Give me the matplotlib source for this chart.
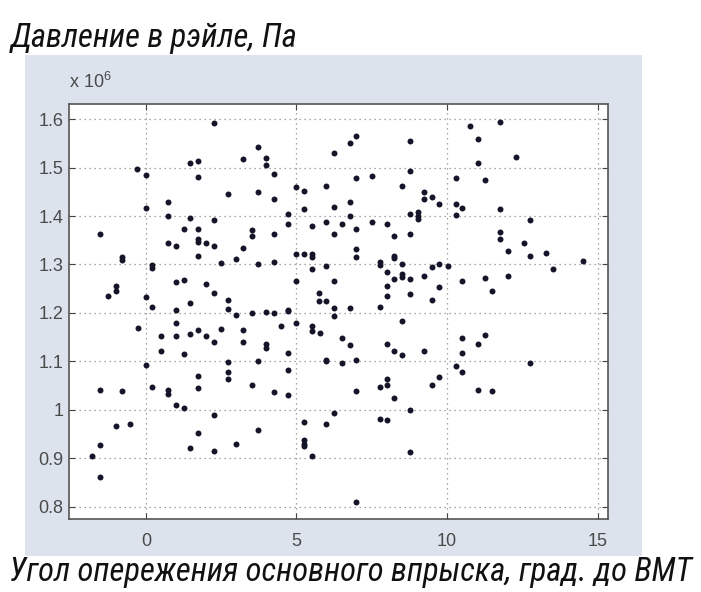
import matplotlib
matplotlib.use("Agg")
import matplotlib.pyplot as plt
from matplotlib.patches import Rectangle
from matplotlib import font_manager

# injection advance angle (deg before TDC) and rail pressure (x 10^6 Pa)
angle = [
    2.26, 3.71, 1.48, 1.74, 3.23, -0.28, 0.00, 1.74, 2.73, 3.72, 0.00, 0.74, 0.74, 1.48, 2.26,
    -1.53, 1.26, 1.74, 3.51, 3.51, 0.74, 1.00, 1.74, 1.74, 1.99, 2.26, 3.23, 1.74, -0.80, -0.80,
    2.48, 2.99, 3.71, 0.22, 0.22, 1.00, 1.26, -1.00, -1.00, -1.25, 0.00, 1.99, 2.26, 2.73, 0.22,
    1.48, 1.00, 2.73,
    2.99, 3.51, -0.26, 0.49, 1.00, 1.00, 1.48, 1.74, 1.99, 2.26, 2.48, 3.23, 3.23, 0.49, 1.26,
    0.00, 2.73, 2.73, 2.73, 3.71, 3.51, 1.74, 1.74, 0.22, -1.53, -0.80, 0.74, 0.74, 1.00, 1.26,
    2.26, -1.00, -0.53, 3.71, 1.74, -1.53, -1.78, 1.48, 2.26, 2.99, -1.53,
    3.98, 3.98, 4.25, 4.25, 4.98, 5.25, 5.97, 6.24, 6.77, 6.99, 8.76, 8.76, 7.51, 6.99, 8.50,
    9.24, 9.24, 9.50, 9.72, 5.25, 6.24, 6.77, 6.77, 4.72, 4.72, 5.52, 5.97, 6.52, 6.99, 7.51,
    8.02, 8.76, 9.02, 9.02, 9.02, 4.25, 6.24, 8.24, 8.76, 4.98, 5.25, 5.52, 5.52, 6.99, 6.99,
    8.24, 8.24, 4.25, 5.52, 5.97, 7.77, 7.77, 8.02, 8.50, 8.50, 8.50, 8.24, 8.76, 9.24, 9.50,
    9.72, 4.98, 6.24, 8.02, 9.72, 5.75, 5.75, 5.97, 8.02, 8.76, 9.50, 4.72, 6.24, 6.77, 7.77,
    3.98, 4.25, 4.72, 4.98, 6.24, 8.50, 4.50, 5.52, 5.52, 5.77, 3.98, 3.98, 4.72, 6.52, 6.77,
    8.02, 8.24, 8.50, 9.24, 4.72, 5.97, 5.97, 6.52, 6.99, 4.25, 4.72, 6.99, 7.77, 8.02, 8.02,
    8.24, 9.50, 9.72, 5.25, 5.97, 6.24, 7.77, 8.02, 8.76, 5.25, 5.25, 5.25, 5.52, 8.76, 6.99,
    10.75, 11.75, 11.03, 11.03, 12.27, 10.28, 11.27, 10.28, 10.50, 10.28, 11.75, 12.74, 11.75,
    11.75, 12.55, 12.01, 12.74, 13.27, 14.52, 13.52, 10.03, 10.50, 11.27, 12.01, 11.49,
    10.50, 11.27, 11.03, 10.50, 12.74, 10.28, 10.50, 11.03, 11.49,
]
pressure = [
    1.591, 1.543, 1.510, 1.514, 1.517, 1.497, 1.485, 1.481, 1.445, 1.450, 1.416, 1.428, 1.399, 1.396, 1.391,
    1.362, 1.374, 1.374, 1.372, 1.358, 1.344, 1.339, 1.352, 1.346, 1.345, 1.339, 1.334, 1.318, 1.315, 1.310,
    1.304, 1.312, 1.302, 1.298, 1.292, 1.264, 1.267, 1.256, 1.246, 1.234, 1.232, 1.260, 1.242, 1.227, 1.213,
    1.220, 1.207, 1.208,
    1.196, 1.199, 1.170, 1.153, 1.179, 1.153, 1.156, 1.165, 1.153, 1.141, 1.167, 1.165, 1.141, 1.122, 1.116,
    1.093, 1.099, 1.078, 1.064, 1.101, 1.051, 1.070, 1.046, 1.048, 1.041, 1.039, 1.041, 1.032, 1.011, 1.004,
    0.989, 0.966, 0.972, 0.958, 0.952, 0.927, 0.904, 0.922, 0.915, 0.930, 0.862,
    1.520, 1.505, 1.486, 1.436, 1.459, 1.452, 1.462, 1.529, 1.550, 1.565, 1.554, 1.493, 1.483, 1.479, 1.462,
    1.450, 1.436, 1.439, 1.425, 1.414, 1.418, 1.428, 1.401, 1.405, 1.384, 1.379, 1.387, 1.384, 1.374, 1.387,
    1.384, 1.405, 1.408, 1.401, 1.394, 1.362, 1.362, 1.358, 1.362, 1.321, 1.322, 1.322, 1.315, 1.331, 1.315,
    1.318, 1.313, 1.305, 1.291, 1.296, 1.305, 1.298, 1.284, 1.300, 1.281, 1.274, 1.270, 1.270, 1.277, 1.294,
    1.301, 1.265, 1.265, 1.256, 1.253, 1.241, 1.224, 1.224, 1.236, 1.239, 1.227, 1.207, 1.210, 1.210, 1.213,
    1.201, 1.199, 1.205, 1.179, 1.193, 1.184, 1.174, 1.174, 1.163, 1.158, 1.136, 1.127, 1.118, 1.149, 1.134,
    1.136, 1.122, 1.113, 1.122, 1.082, 1.104, 1.100, 1.096, 1.104, 1.037, 1.030, 1.039, 1.048, 1.064, 1.051,
    1.025, 1.051, 1.068, 0.975, 0.970, 0.993, 0.982, 0.979, 0.999, 0.937, 0.930, 0.925, 0.904, 0.913, 0.810,
    1.586, 1.594, 1.559, 1.510, 1.522, 1.478, 1.474, 1.425, 1.416, 1.403, 1.414, 1.391, 1.367,
    1.353, 1.345, 1.327, 1.318, 1.324, 1.307, 1.290, 1.296, 1.265, 1.272, 1.276, 1.245,
    1.149, 1.155, 1.136, 1.118, 1.096, 1.090, 1.078, 1.042, 1.039,
]

x_ticks = [0, 5, 10, 15]
y_ticks = [0.8, 0.9, 1.0, 1.1, 1.2, 1.3, 1.4, 1.5, 1.6]
y_tick_labels = ["0.8", "0.9", "1", "1.1", "1.2", "1.3", "1.4", "1.5", "1.6"]

title_text = "Давление в рэйле, Па"
xlabel_text = "Угол опережения основного впрыска, град. до ВМТ"

names = {f.name for f in font_manager.fontManager.ttflist}
narrow = [n for n in ["Roboto Condensed", "Liberation Sans Narrow", "DejaVu Sans Condensed"] if n in names]
label_family = narrow + ["DejaVu Sans"]
tick_family = ["Liberation Sans", "DejaVu Sans"]
plt.rcParams["mathtext.fontset"] = "custom"
plt.rcParams["mathtext.rm"] = "Liberation Sans"

fig = plt.figure(figsize=(7.01, 5.92), dpi=100)
fig.patch.set_facecolor("white")

# the grey-blue MATLAB figure panel, kept behind the axes
fig.patches.append(Rectangle((0.036, 0.061), 0.880, 0.846, transform=fig.transFigure,
                             facecolor="#dde3ed", edgecolor="none", zorder=-5))

ax = fig.add_axes([0.0984, 0.1233, 0.7686, 0.701])
ax.set_zorder(2)
ax.set_facecolor("white")
ax.plot(angle, pressure, linestyle="none", marker="o", markersize=4.3,
        color="#15152a", markeredgewidth=0, zorder=3)

ax.set_xlim(-2.55, 15.33)
ax.set_ylim(0.775, 1.631)
ax.set_xticks(x_ticks)
ax.set_yticks(y_ticks)
ax.set_yticklabels(y_tick_labels)
ax.grid(True, linestyle=(0, (1, 3)), color="#8a8a8a", linewidth=0.9)
ax.tick_params(direction="in", top=True, right=True, length=4, width=0.8,
               colors="#444444", labelsize=13, labelcolor="#4a4a4a")
ax.tick_params(axis="y", pad=4)
ax.tick_params(axis="x", pad=10)
for lbl in ax.get_xticklabels() + ax.get_yticklabels():
    lbl.set_family(tick_family)
for sp in ax.spines.values():
    sp.set_color("#555555")
    sp.set_linewidth(1.2)

fig.text(0.099, 0.862, r"x 10$^{6}$", fontsize=13, color="#4a4a4a", family=tick_family,
         ha="left", va="center")

fig.text(0.016, 0.935, title_text, fontsize=23.5, style="italic", family=label_family,
         color="#111111", ha="left", va="center")
fig.text(0.013, 0.034, xlabel_text, fontsize=23.5, style="italic", family=label_family,
         color="#111111", ha="left", va="center")

fig.savefig("out.png", dpi=100)
